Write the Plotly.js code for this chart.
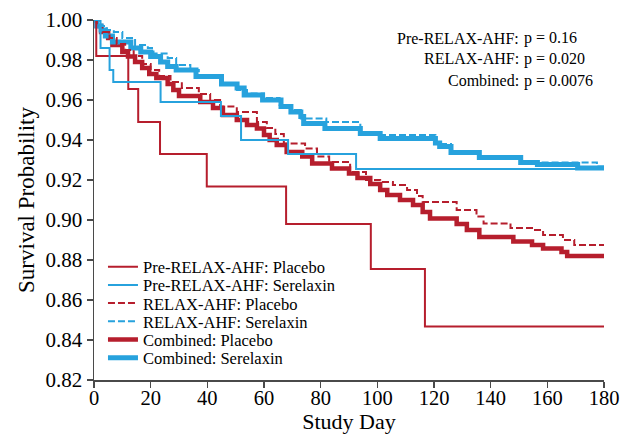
<!DOCTYPE html>
<html><head><meta charset="utf-8">
<script src="https://cdn.plot.ly/plotly-3.0.1.min.js"></script>
<style>html,body{margin:0;padding:0;background:#fff}#chart{width:620px;height:434px}</style>
</head><body><div id="chart"></div>
<script>
// ---- Data (Kaplan-Meier step points: day, survival probability) ----
const preP_day  = [0, 0.8, 12.1, 15.6, 23.3, 39.8, 67.8, 97.7, 116.8, 180];
const preP_surv = [1.0, 0.982, 0.9655, 0.949, 0.933, 0.9167, 0.898, 0.8755, 0.8467, 0.8467];

const preS_day  = [0, 2.3, 5.5, 6.8, 23.5, 44.8, 51.9, 68.5, 92.5, 180];
const preS_surv = [1.0, 0.986, 0.975, 0.969, 0.959, 0.952, 0.940, 0.933, 0.9255, 0.9255];

const relP_day  = [0, 1, 3, 5.5, 8, 11, 14, 17, 20, 23, 27, 31, 37, 41, 44.5, 50.4, 57.5, 61, 64, 67, 74.5, 78.7, 83, 90.4, 96, 101, 105.5, 110.5, 114, 116, 128, 135, 137.5, 147, 155, 158.5, 165.5, 169.5, 180];
const relP_surv = [1.0, 0.997, 0.994, 0.991, 0.988, 0.985, 0.982, 0.978, 0.975, 0.972, 0.969, 0.966, 0.963, 0.960, 0.9567, 0.954, 0.949, 0.946, 0.943, 0.9383, 0.9358, 0.9317, 0.929, 0.924, 0.920, 0.919, 0.9175, 0.915, 0.912, 0.909, 0.905, 0.9017, 0.8983, 0.896, 0.895, 0.8925, 0.890, 0.8875, 0.8875];

const relS_day  = [0, 1.8, 4.5, 7, 10, 14.5, 19, 21, 26, 29, 34, 37, 44.5, 50.5, 54, 60, 65.5, 69.5, 73, 82, 94, 101, 120.5, 126, 136, 150.6, 177.5, 180];
const relS_surv = [1.0, 0.997, 0.995, 0.994, 0.991, 0.9875, 0.986, 0.9833, 0.981, 0.9775, 0.975, 0.9717, 0.968, 0.965, 0.9633, 0.961, 0.9575, 0.955, 0.9508, 0.949, 0.944, 0.9425, 0.938, 0.934, 0.931, 0.9288, 0.9267, 0.9267];

const combP_day  = [0, 1, 2.5, 5, 6.5, 10, 12, 14.5, 17, 19.5, 22, 26, 28, 30, 37.5, 42, 45.5, 50.4, 54, 57.5, 60, 62, 64.5, 68, 73.5, 77, 84, 90, 93, 97.5, 101, 103.5, 108, 112.6, 116, 118.6, 128, 131.6, 136, 148, 154.6, 158.5, 165, 167, 180];
const combP_surv = [1.0, 0.997, 0.994, 0.991, 0.9875, 0.984, 0.9817, 0.979, 0.976, 0.973, 0.971, 0.968, 0.965, 0.962, 0.959, 0.956, 0.9525, 0.950, 0.9475, 0.9458, 0.9425, 0.940, 0.9375, 0.934, 0.9317, 0.9283, 0.9258, 0.9233, 0.921, 0.918, 0.915, 0.9125, 0.910, 0.9075, 0.904, 0.9008, 0.898, 0.895, 0.8915, 0.8892, 0.8875, 0.8858, 0.884, 0.882, 0.882];

const combS_day  = [0, 1, 2.5, 4, 6.5, 13, 16.5, 20, 23.5, 26, 29, 36, 45, 50.5, 53, 59.5, 66, 69.5, 73, 74, 81.5, 94, 101, 120.5, 122, 126, 136, 150.6, 156.5, 170.7, 180];
const combS_surv = [1.0, 0.997, 0.995, 0.992, 0.989, 0.986, 0.984, 0.9817, 0.979, 0.9767, 0.975, 0.9717, 0.968, 0.966, 0.9625, 0.960, 0.9567, 0.954, 0.9517, 0.9483, 0.9458, 0.9433, 0.9408, 0.9385, 0.9367, 0.9338, 0.9313, 0.9288, 0.9278, 0.926, 0.926];

const seriesNames = ["Pre-RELAX-AHF: Placebo", "Pre-RELAX-AHF: Serelaxin", "RELAX-AHF: Placebo", "RELAX-AHF: Serelaxin", "Combined: Placebo", "Combined: Serelaxin"];
const xTicks = [0, 20, 40, 60, 80, 100, 120, 140, 160, 180];
const yTicks = [0.82, 0.84, 0.86, 0.88, 0.90, 0.92, 0.94, 0.96, 0.98, 1.00];
const pLabels = ["Pre-RELAX-AHF:", "RELAX-AHF:", "Combined:"];
const pValues = ["p = 0.16", "p = 0.020", "p = 0.0076"];

// ---- Styles ----
const RED = '#B61E2D', BLUE = '#27A2DD';
const FONT = 'Liberation Serif, Times New Roman, serif';
const styles = [
  {color: RED,  width: 2,   dash: 'solid'},
  {color: BLUE, width: 2,   dash: 'solid'},
  {color: RED,  width: 2,   dash: '7px,3px'},
  {color: BLUE, width: 2,   dash: '7px,3px'},
  {color: RED,  width: 4.5, dash: 'solid'},
  {color: BLUE, width: 5,   dash: 'solid'}
];
const series = [
  [preP_day, preP_surv], [preS_day, preS_surv],
  [relP_day, relP_surv], [relS_day, relS_surv],
  [combP_day, combP_surv], [combS_day, combS_surv]
];
const drawOrder = [4, 5, 2, 3, 0, 1];
const legendIds = ['legend', 'legend2', 'legend3', 'legend4', 'legend5', 'legend6'];

const traces = drawOrder.map(i => ({
  x: series[i][0], y: series[i][1], type: 'scatter', mode: 'lines',
  name: seriesNames[i], legend: legendIds[i],
  line: {shape: 'hv', color: styles[i].color, width: styles[i].width, dash: styles[i].dash},
  hoverinfo: 'skip'
}));

const legendYpx = [267, 285.2, 303.4, 321.6, 339.8, 358];
const plotTop = 20, plotBottom = 380, plotLeft = 94, plotRight = 604;
const layout = {
  width: 620, height: 434,
  margin: {l: plotLeft, r: 620 - plotRight, t: plotTop, b: 434 - plotBottom},
  paper_bgcolor: '#fff', plot_bgcolor: '#fff',
  font: {family: FONT, color: '#000'},
  showlegend: true,
  xaxis: {
    range: [0, 180], tickvals: xTicks, ticktext: xTicks.map(String),
    showgrid: false, zeroline: false, showline: true, linecolor: '#4a4a4a', linewidth: 1.5,
    ticks: 'outside', ticklen: 6, tickwidth: 1.5, tickcolor: '#4a4a4a',
    ticklabelstandoff: -7,
    tickfont: {family: FONT, size: 20.5, color: '#000'},
    title: {text: 'Study Day', font: {family: FONT, size: 22, color: '#000'}, standoff: 3}
  },
  yaxis: {
    range: [0.82, 1.0], tickvals: yTicks, ticktext: yTicks.map(v => v.toFixed(2)),
    showgrid: false, zeroline: false, showline: true, linecolor: '#4a4a4a', linewidth: 1.5,
    ticks: 'outside', ticklen: 6, tickwidth: 1.5, tickcolor: '#4a4a4a',
    tickfont: {family: FONT, size: 21, color: '#000'},
    title: {text: 'Survival Probability', font: {family: FONT, size: 23, color: '#000'}, standoff: 4}
  },
  annotations: []
};
legendIds.forEach((id, i) => {
  layout[id] = {
    x: 0.0176, xanchor: 'left',
    y: (plotBottom - legendYpx[i]) / (plotBottom - plotTop), yanchor: 'middle',
    bgcolor: 'rgba(0,0,0,0)', borderwidth: 0,
    font: {family: FONT, size: 16.5, color: '#000'}
  };
});
const pYpx = [38, 59, 80.7];
pLabels.forEach((lab, i) => {
  const yy = (plotBottom - pYpx[i]) / (plotBottom - plotTop);
  layout.annotations.push({xref: 'paper', yref: 'paper', x: (521 - plotLeft) / (plotRight - plotLeft), y: yy,
    xanchor: 'right', yanchor: 'middle', text: lab, showarrow: false,
    font: {family: FONT, size: 16, color: '#000'}});
  layout.annotations.push({xref: 'paper', yref: 'paper', x: (522 - plotLeft) / (plotRight - plotLeft), y: yy,
    xanchor: 'left', yanchor: 'middle', text: pValues[i], showarrow: false,
    font: {family: FONT, size: 16, color: '#000'}});
});

Plotly.newPlot('chart', traces, layout, {staticPlot: true, displayModeBar: false});
</script></body></html>
